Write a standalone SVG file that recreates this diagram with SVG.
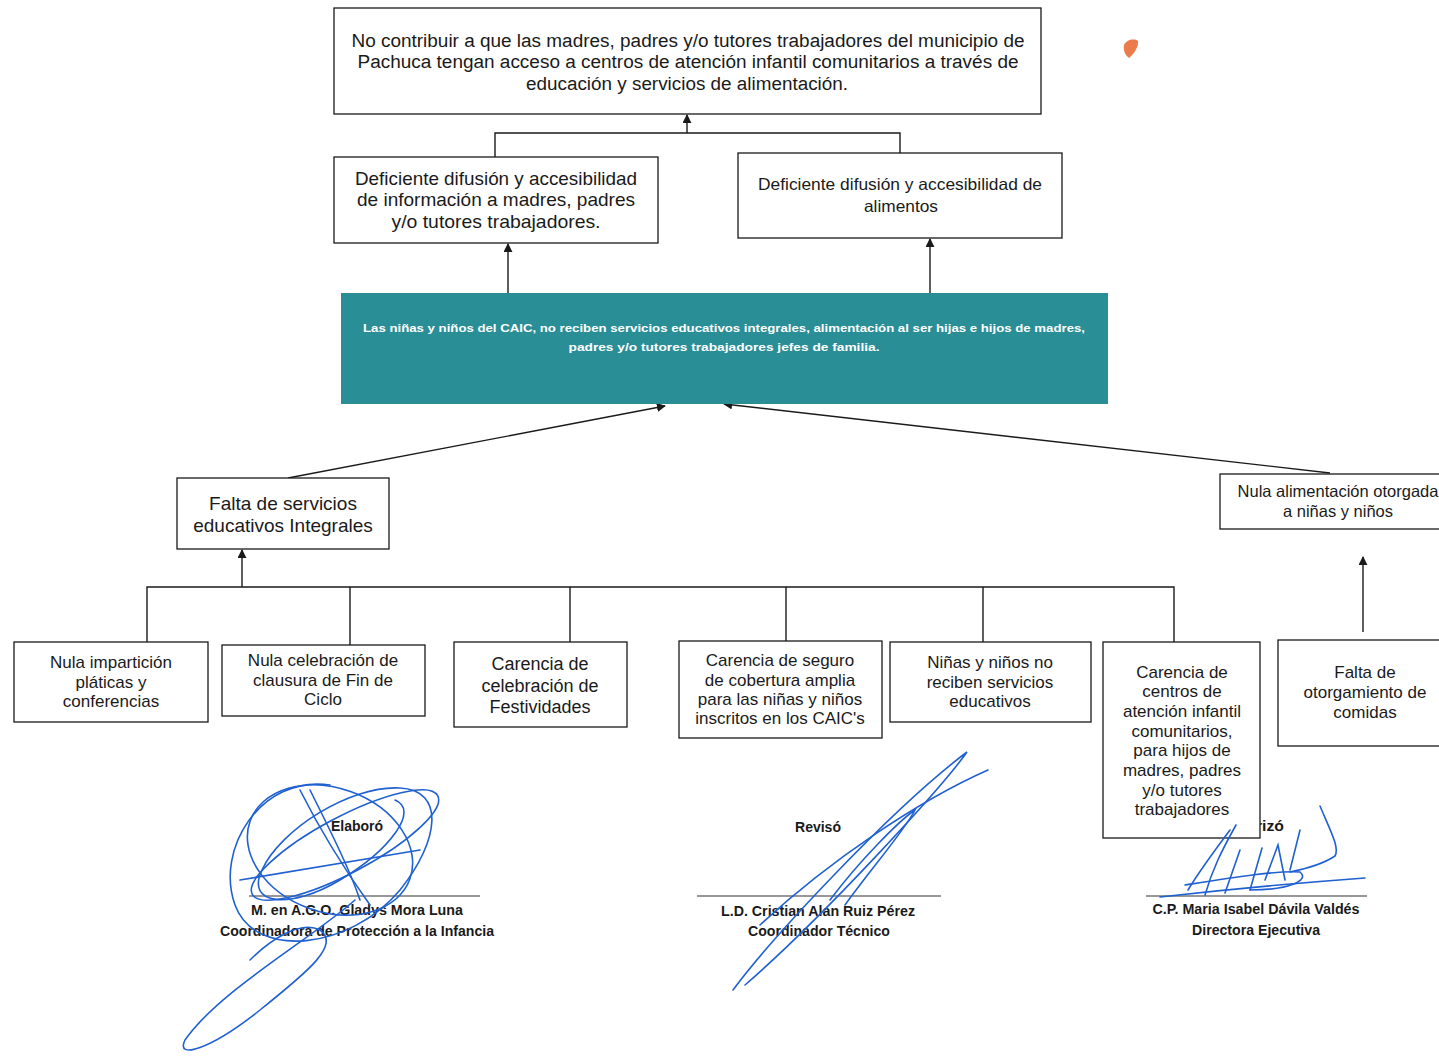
<svg xmlns="http://www.w3.org/2000/svg" width="1439" height="1057" viewBox="0 0 1439 1057">
<defs>
<marker id="ah" viewBox="0 0 10 10" refX="9" refY="5" markerWidth="9" markerHeight="9" markerUnits="userSpaceOnUse" orient="auto">
<path d="M0,0 L10,5 L0,10 z" fill="#1a1a1a"/>
</marker>
<style>
.box{fill:#fff;stroke:#1a1a1a;stroke-width:1.3}
.t{font-family:"Liberation Sans",Arial,sans-serif;fill:#1a1a1a;text-anchor:middle}
.tb{font-family:"Liberation Sans",Arial,sans-serif;fill:#1a1a1a;text-anchor:middle;font-weight:bold;font-size:14px}
.w{font-family:"Liberation Sans",Arial,sans-serif;fill:#fff;text-anchor:middle;font-weight:bold;font-size:11.5px}
.c{fill:none;stroke:#1a1a1a;stroke-width:1.4}
.sig{fill:none;stroke:#2060d0;stroke-width:1.6;stroke-linecap:round}
</style>
</defs>
<rect width="1439" height="1057" fill="#fff"/>

<g id="connectors">
<path class="c" d="M495,157 V133 H900 V153"/>
<path class="c" d="M687,133 V115" marker-end="url(#ah)"/>
<path class="c" d="M508,293 V244" marker-end="url(#ah)"/>
<path class="c" d="M930,309 V239" marker-end="url(#ah)"/>
<path class="c" d="M288,478 L665,406" marker-end="url(#ah)"/>
<path class="c" d="M1330,473 L724,404" marker-end="url(#ah)"/>
<path class="c" d="M242,587 V550" marker-end="url(#ah)"/>
<path class="c" d="M147,642 V587 H1174 V642"/>
<path class="c" d="M350,587 V645"/>
<path class="c" d="M570,587 V642"/>
<path class="c" d="M786,587 V641"/>
<path class="c" d="M983,587 V642"/>
<path class="c" d="M1363,632 V557" marker-end="url(#ah)"/>
</g>

<g id="n-top">
<rect class="box" x="334" y="8" width="707" height="106"/>
<text class="t" font-size="18" x="688" y="47" textLength="673" lengthAdjust="spacingAndGlyphs">No contribuir a que las madres, padres y/o tutores trabajadores del municipio de</text>
<text class="t" font-size="18" x="688" y="68" textLength="661" lengthAdjust="spacingAndGlyphs">Pachuca tengan acceso a centros de atención infantil comunitarios a través de</text>
<text class="t" font-size="18" x="687" y="90" textLength="322" lengthAdjust="spacingAndGlyphs">educación y servicios de alimentación.</text>
</g>

<g id="n-a">
<rect class="box" x="334" y="157" width="324" height="86"/>
<text class="t" font-size="18.5" x="496" y="185" textLength="282" lengthAdjust="spacingAndGlyphs">Deficiente difusión y accesibilidad</text>
<text class="t" font-size="18.5" x="496" y="206" textLength="278" lengthAdjust="spacingAndGlyphs">de información a madres, padres</text>
<text class="t" font-size="18.5" x="496" y="228" textLength="209" lengthAdjust="spacingAndGlyphs">y/o tutores  trabajadores.</text>
</g>

<g id="n-b">
<rect class="box" x="738" y="153" width="324" height="85"/>
<text class="t" font-size="16.5" x="900" y="190" textLength="284" lengthAdjust="spacingAndGlyphs">Deficiente difusión y accesibilidad de</text>
<text class="t" font-size="16.5" x="901" y="212" textLength="74" lengthAdjust="spacingAndGlyphs">alimentos</text>
</g>

<g id="n-center">
<rect x="341" y="293" width="767" height="111" fill="#2a8e97"/>
<text class="w" x="724" y="332" textLength="722" lengthAdjust="spacingAndGlyphs">Las niñas y niños del CAIC, no reciben servicios educativos integrales, alimentación al ser hijas e hijos de madres,</text>
<text class="w" x="724" y="351" textLength="311" lengthAdjust="spacingAndGlyphs">padres y/o tutores trabajadores jefes de familia.</text>
</g>

<g id="n-falta">
<rect class="box" x="177" y="478" width="212" height="71"/>
<text class="t" font-size="19" x="283" y="510">Falta de servicios</text>
<text class="t" font-size="19" x="283" y="532">educativos Integrales</text>
</g>

<g id="n-nula-alim">
<rect class="box" x="1220" y="474" width="230" height="55"/>
<text class="t" font-size="16.5" x="1338" y="497">Nula alimentación otorgada</text>
<text class="t" font-size="16.5" x="1338" y="517">a niñas y niños</text>
</g>

<g id="n-b1">
<rect class="box" x="14" y="642" width="194" height="80"/>
<text class="t" font-size="17" x="111" y="668">Nula impartición</text>
<text class="t" font-size="17" x="111" y="688">pláticas y</text>
<text class="t" font-size="17" x="111" y="707">conferencias</text>
</g>

<g id="n-b2">
<rect class="box" x="222" y="645" width="203" height="71"/>
<text class="t" font-size="17" x="323" y="666">Nula celebración de</text>
<text class="t" font-size="17" x="323" y="686">clausura de Fin de</text>
<text class="t" font-size="17" x="323" y="705">Ciclo</text>
</g>

<g id="n-b3">
<rect class="box" x="454" y="642" width="173" height="85"/>
<text class="t" font-size="18" x="540" y="670">Carencia de</text>
<text class="t" font-size="18" x="540" y="692">celebración de</text>
<text class="t" font-size="18" x="540" y="713">Festividades</text>
</g>

<g id="n-b4">
<rect class="box" x="679" y="641" width="203" height="97"/>
<text class="t" font-size="17" x="780" y="666">Carencia de  seguro</text>
<text class="t" font-size="17" x="780" y="686">de cobertura  amplia</text>
<text class="t" font-size="17" x="780" y="705">para las niñas y niños</text>
<text class="t" font-size="17" x="780" y="724">inscritos en los CAIC's</text>
</g>

<g id="n-b5">
<rect class="box" x="890" y="642" width="201" height="80"/>
<text class="t" font-size="17" x="990" y="668">Niñas y niños no</text>
<text class="t" font-size="17" x="990" y="688">reciben servicios</text>
<text class="t" font-size="17" x="990" y="707">educativos</text>
</g>

<g id="sig-labels">
<text class="tb" x="357" y="831">Elaboró</text>
<line x1="249" y1="896" x2="480" y2="896" stroke="#333" stroke-width="1.2"/>
<text class="tb" x="357" y="915" textLength="212" lengthAdjust="spacingAndGlyphs">M. en A.G.O. Gladys Mora Luna</text>
<text class="tb" x="357" y="936" textLength="274" lengthAdjust="spacingAndGlyphs">Coordinadora de Protección a la Infancia</text>

<text class="tb" x="818" y="832">Revisó</text>
<line x1="697" y1="896" x2="941" y2="896" stroke="#333" stroke-width="1.2"/>
<text class="tb" x="818" y="916" textLength="194" lengthAdjust="spacingAndGlyphs">L.D. Cristian Alan Ruiz Pérez</text>
<text class="tb" x="819" y="936" textLength="142" lengthAdjust="spacingAndGlyphs">Coordinador Técnico</text>

<text class="tb" x="1252" y="831" textLength="64" lengthAdjust="spacingAndGlyphs">Autorizó</text>
<line x1="1146" y1="896" x2="1367" y2="896" stroke="#333" stroke-width="1.2"/>
<text class="tb" x="1256" y="914" textLength="207" lengthAdjust="spacingAndGlyphs">C.P. Maria Isabel Dávila Valdés</text>
<text class="tb" x="1256" y="935" textLength="128" lengthAdjust="spacingAndGlyphs">Directora Ejecutiva</text>
</g>

<g id="n-b6">
<rect class="box" x="1103" y="642" width="157" height="196"/>
<text class="t" font-size="17" x="1182" y="678">Carencia de</text>
<text class="t" font-size="17" x="1182" y="697">centros de</text>
<text class="t" font-size="17" x="1182" y="717">atención infantil</text>
<text class="t" font-size="17" x="1182" y="737">comunitarios,</text>
<text class="t" font-size="17" x="1182" y="756">para hijos de</text>
<text class="t" font-size="17" x="1182" y="776">madres, padres</text>
<text class="t" font-size="17" x="1182" y="796">y/o tutores</text>
<text class="t" font-size="17" x="1182" y="815">trabajadores</text>
</g>

<g id="n-b7">
<rect class="box" x="1278" y="640" width="180" height="106"/>
<text class="t" font-size="17" x="1365" y="678">Falta de</text>
<text class="t" font-size="17" x="1365" y="698">otorgamiento de</text>
<text class="t" font-size="17" x="1365" y="718">comidas</text>
</g>

<g id="signatures">
<path class="sig" d="M330,785 C260,775 215,850 235,905 C255,960 350,950 400,890 C440,840 445,790 400,788 C350,785 280,830 262,870 C245,905 290,910 340,880 C390,850 420,810 395,800"/>
<ellipse class="sig" cx="345" cy="845" rx="105" ry="28" transform="rotate(-28 345 845)"/>
<ellipse class="sig" cx="330" cy="850" rx="85" ry="62" transform="rotate(20 330 850)"/>
<path class="sig" d="M300,790 C320,830 345,870 370,905"/>
<path class="sig" d="M310,790 C330,830 350,870 360,900"/>
<path class="sig" d="M240,880 C300,870 360,860 420,850"/>
<path class="sig" d="M355,900 C310,940 220,990 185,1040 C175,1060 210,1050 260,1010 C310,970 340,945 320,930 C300,920 270,940 250,960"/>
<path class="sig" d="M733,990 C770,940 890,810 967,752 C940,790 820,920 745,985"/>
<path class="sig" d="M760,925 C830,860 920,800 988,770"/>
<path class="sig" d="M830,900 C860,860 900,820 915,810 C905,830 870,870 845,905"/>
<path class="sig" d="M1188,890 C1200,870 1215,850 1230,830 M1205,895 C1212,870 1222,850 1236,825 M1225,893 L1240,850 M1250,890 L1262,848"/>
<path class="sig" d="M1185,885 C1230,878 1280,870 1300,872 C1310,880 1290,890 1250,890"/>
<path class="sig" d="M1160,897 C1240,888 1310,882 1365,878"/>
<path class="sig" d="M1290,870 L1300,830 M1320,806 C1330,830 1340,848 1335,856 C1320,866 1300,870 1290,872"/>
<path class="sig" d="M1265,880 L1278,845 L1285,880"/>
</g>

<g id="mark">
<path d="M1124,45 C1126,40 1134,38 1138,41 C1139,46 1134,54 1129,58 C1125,55 1123,50 1124,45 z" fill="#e8642a" opacity="0.85"/>
</g>
</svg>
